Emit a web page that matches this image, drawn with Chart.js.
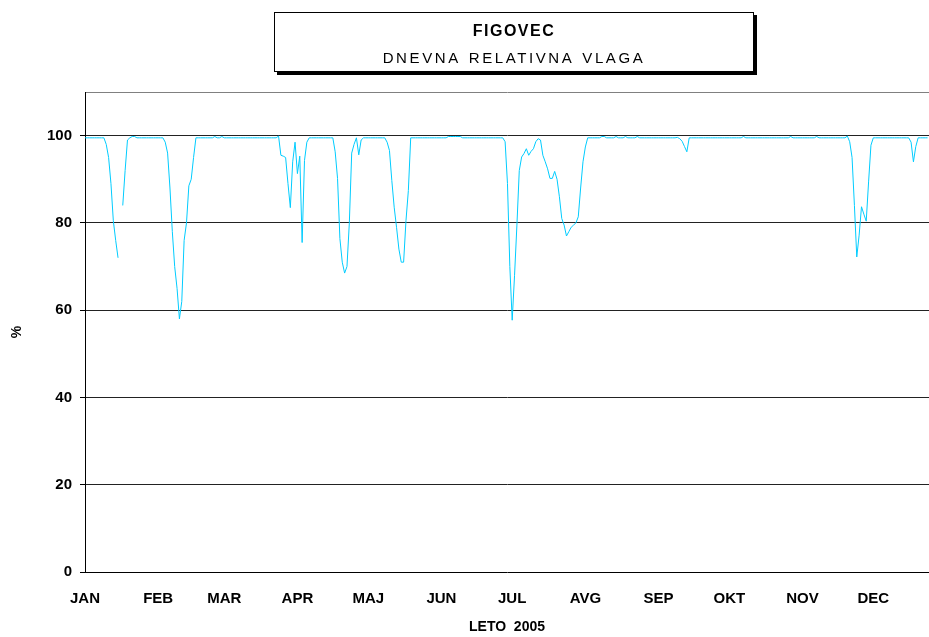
<!DOCTYPE html>
<html>
<head>
<meta charset="utf-8">
<script src="https://cdn.jsdelivr.net/npm/chart.js@4"></script>
<style>
  body { margin: 0; background: #fff; }
  #wrap { position: relative; width: 929px; height: 637px; }
  #titleBox {
    position: absolute; left: 274px; top: 12px; width: 480px; height: 60px;
    box-sizing: border-box; border: 1px solid #000; background: #fff;
    box-shadow: 3px 3px 0 #000; text-align: center;
    font-family: "Liberation Sans", Arial, sans-serif; color: #000;
  }
  #titleBox .t1 { font-weight: bold; font-size: 16px; letter-spacing: 1.5px; margin-top: 9px; line-height: 18px; }
  #titleBox .t2 { font-size: 15px; letter-spacing: 2.6px; word-spacing: 2px; margin-top: 9px; line-height: 18px; }
</style>
</head>
<body>
<div id="wrap">
  <canvas id="chart" width="929" height="637"></canvas>
  <div id="titleBox">
    <div class="t1">FIGOVEC</div>
    <div class="t2">DNEVNA RELATIVNA VLAGA</div>
  </div>
</div>
<script>
// month tick positions (day of year) and labels
const monthStarts = [0, 31, 59, 90, 120, 151, 181, 212, 243, 273, 304, 334];
const monthLabels = ["JAN", "FEB", "MAR", "APR", "MAJ", "JUN", "JUL", "AVG", "SEP", "OKT", "NOV", "DEC"];
const yTicks = [0, 20, 40, 60, 80, 100];

// daily relative humidity (%) per month
const jan = [99.5, 99.5, 99.5, 99.5, 99.5, 99.5, 99.5, 99.5, 99.5, 98, 95, 89, 80.5, 76, 72, null,
  84, 92, 99, 99.5, 99.8, 99.8, 99.5, 99.5, 99.5, 99.5, 99.5, 99.5, 99.5, 99.5, 99.5];
const feb = [99.5, 99.5, 99.5, 98.5, 96, 88, 78, 70, 65, 58, 62, 76, 80, 88.5, 90, 95, 99.5,
  99.5, 99.5, 99.5, 99.5, 99.5, 99.5, 99.5, 99.8, 99.5, 99.5, 99.8];
const mar = [99.5, 99.5, 99.5, 99.5, 99.5, 99.5, 99.5, 99.5, 99.5, 99.5, 99.5, 99.5, 99.5, 99.5,
  99.5, 99.5, 99.5, 99.5, 99.5, 99.5, 99.5, 99.5, 99.5, 99.9, 95.5, 95.3, 95, 89, 83.5, 94, 98.5];
const apr = [91.3, 95.3, 75.5, 94.3, 98.5, 99.5, 99.5, 99.5, 99.5, 99.5, 99.5, 99.5, 99.5, 99.5,
  99.5, 99.5, 96.3, 90.2, 76.4, 71, 68.5, 70, 80, 96, 98, 99.5, 95.6, 99, 99.5, 99.5];
const maj = [99.5, 99.5, 99.5, 99.5, 99.5, 99.5, 99.5, 99.5, 98.5, 96.6, 89.7, 83.6, 79, 74, 71,
  71, 80.5, 87.4, 99.5, 99.5, 99.5, 99.5, 99.5, 99.5, 99.5, 99.5, 99.5, 99.5, 99.5, 99.5, 99.5];
const jun = [99.5, 99.5, 99.5, 99.8, 99.8, 99.8, 99.8, 99.8, 99.8, 99.5, 99.5, 99.5, 99.5, 99.5,
  99.5, 99.5, 99.5, 99.5, 99.5, 99.5, 99.5, 99.5, 99.5, 99.5, 99.5, 99.5, 99.5, 98.6, 89, 70];
const jul = [57.7, 68, 79.5, 92, 95.1, 95.9, 97, 95.5, 96.4, 97, 98.6, 99.3, 99, 95.5, 94, 92.4,
  90.2, 90.2, 91.8, 90, 86, 81, 79.5, 77, 78, 79, 79.5, 80, 81.4, 88, 94];
const avg = [97.4, 99.5, 99.5, 99.5, 99.5, 99.5, 99.5, 99.8, 99.8, 99.5, 99.5, 99.5, 99.5, 99.8,
  99.5, 99.5, 99.5, 99.8, 99.5, 99.5, 99.5, 99.5, 99.8, 99.5, 99.5, 99.5, 99.5, 99.5, 99.5, 99.5, 99.5];
const sep = [99.5, 99.5, 99.5, 99.5, 99.5, 99.5, 99.5, 99.5, 99.6, 99.3, 98.7, 97.5, 96.3, 99.5,
  99.5, 99.5, 99.5, 99.5, 99.5, 99.5, 99.5, 99.5, 99.5, 99.5, 99.5, 99.5, 99.5, 99.5, 99.5, 99.5];
const okt = [99.5, 99.5, 99.5, 99.5, 99.5, 99.5, 99.8, 99.5, 99.5, 99.5, 99.5, 99.5, 99.5, 99.5,
  99.5, 99.5, 99.5, 99.5, 99.5, 99.5, 99.5, 99.5, 99.5, 99.5, 99.5, 99.5, 99.8, 99.5, 99.5, 99.5, 99.5];
const nov = [99.5, 99.5, 99.5, 99.5, 99.5, 99.5, 99.8, 99.5, 99.5, 99.5, 99.5, 99.5, 99.5, 99.5,
  99.5, 99.5, 99.5, 99.5, 99.5, 99.9, 98.6, 95, 84, 72.2, 77.2, 83.7, 82, 80.4, 89.4, 97.8];
const dec = [99.5, 99.5, 99.5, 99.5, 99.5, 99.5, 99.5, 99.5, 99.5, 99.5, 99.5, 99.5, 99.5, 99.5,
  99.5, 99.5, 98.5, 94, 97.5, 99.5, 99.5, 99.5, 99.5, 99.5];

const humidity = [].concat(jan, feb, mar, apr, maj, jun, jul, avg, sep, okt, nov, dec);
const points = humidity.map((v, i) => ({ x: i, y: v }));

const tickFont = { family: "'Liberation Sans', Arial, sans-serif", size: 15, weight: "bold" };

new Chart(document.getElementById("chart"), {
  type: "line",
  data: {
    datasets: [{
      data: points,
      borderColor: "#00CCFF",
      borderWidth: 1,
      pointRadius: 0,
      tension: 0,
      spanGaps: false,
      fill: false
    }]
  },
  options: {
    responsive: false,
    animation: false,
    layout: { padding: { top: 92, right: 0, bottom: 0, left: 0 } },
    plugins: { legend: { display: false }, tooltip: { enabled: false } },
    scales: {
      x: {
        type: "linear",
        min: 0,
        max: 357.6,
        afterBuildTicks: (axis) => { axis.ticks = monthStarts.map(v => ({ value: v })); },
        afterFit: (axis) => { axis.height = 65; },
        grid: { display: false, drawTicks: false },
        border: { display: true, color: "#000", width: 1 },
        ticks: {
          autoSkip: false,
          maxRotation: 0,
          padding: 18,
          color: "#000",
          font: tickFont,
          callback: (v) => monthLabels[monthStarts.indexOf(v)]
        },
        title: {
          display: true,
          text: "LETO  2005",
          color: "#000",
          font: { family: "'Liberation Sans', Arial, sans-serif", size: 14, weight: "bold" },
          padding: { top: 0, bottom: 1 }
        }
      },
      y: {
        min: 0,
        max: 110,
        afterBuildTicks: (axis) => { axis.ticks = yTicks.concat([110]).map(v => ({ value: v })); },
        afterFit: (axis) => { axis.width = 85; },
        grid: {
          color: (c) => c.tick.value === 110 ? "#808080" : (c.tick.value === 0 ? "rgba(0,0,0,0)" : "#222"),
          tickColor: (c) => c.tick.value === 110 ? "rgba(0,0,0,0)" : "#000",
          tickLength: 5,
          lineWidth: 1
        },
        border: { display: true, color: "#000", width: 1 },
        ticks: {
          padding: 8,
          color: "#000",
          font: tickFont,
          callback: (v) => v === 110 ? "" : String(v)
        },
        title: {
          display: true,
          text: "%",
          color: "#000",
          font: { family: "'Liberation Sans', Arial, sans-serif", size: 14, weight: "bold" },
          padding: { top: 9, bottom: 0 }
        }
      }
    }
  }
});
</script>
</body>
</html>
